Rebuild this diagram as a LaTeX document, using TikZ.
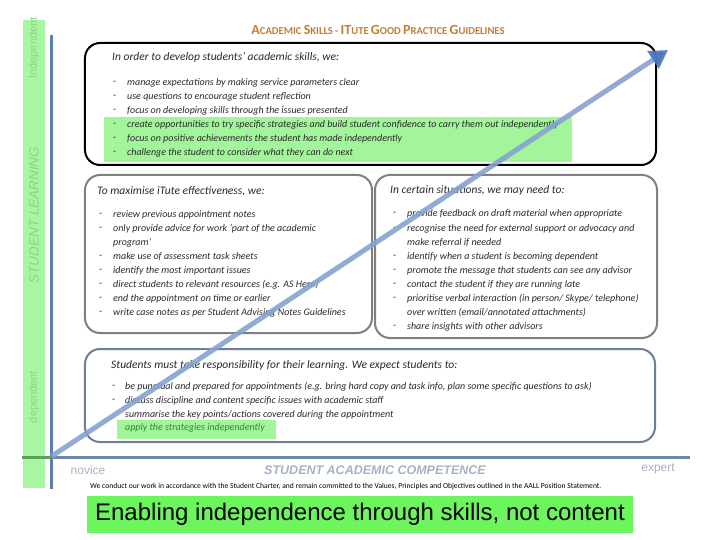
\documentclass[tikz,border=0pt]{standalone}
\usepackage{fontspec}
\setmainfont{Carlito}
\newfontfamily\arialf{Liberation Sans}
\usetikzlibrary{arrows.meta}
\definecolor{stripgreen}{HTML}{A8F5A2}
\definecolor{labgreen}{HTML}{86D886}
\definecolor{axisblue}{HTML}{5B7DB1}
\definecolor{axisgrey}{HTML}{6E86AA}
\definecolor{axisgreen}{HTML}{5E9E62}
\definecolor{boxgrey}{HTML}{808080}
\definecolor{boxblue}{HTML}{6E7F9A}
\definecolor{hlgreen}{HTML}{A2F59A}
\definecolor{enabgreen}{HTML}{6CF55C}
\definecolor{titlecol}{HTML}{C47E32}
\definecolor{txtc}{HTML}{2A2A2A}
\definecolor{greentxt}{HTML}{2E8A2E}
\definecolor{compcol}{HTML}{A6B2C6}
\definecolor{arrowblue}{HTML}{86A2D2}
\definecolor{headblue}{HTML}{4A76BE}
\newcommand\tsc[2]{{\fontsize{14bp}{14bp}\selectfont #1}{\fontsize{10.6bp}{14bp}\selectfont #2}}
\tikzset{
  panel/.style={draw, line width=2bp, rounded corners=15bp, fill=white, inner sep=0},
  txt/.style={anchor=west, inner sep=0, text=txtc, font=\fontsize{10bp}{11bp}\selectfont\itshape},
  head/.style={anchor=west, inner sep=0, text=txtc, font=\fontsize{11.5bp}{12bp}\selectfont\itshape},
  dashb/.style={anchor=west, inner sep=0, text=txtc, font=\fontsize{10bp}{11bp}\selectfont},
  sidelab/.style={rotate=90, inner sep=0, text=labgreen, font=\arialf\fontsize{11bp}{11bp}\selectfont},
  axlab/.style={inner sep=0, text=compcol, font=\arialf\fontsize{12bp}{12bp}\selectfont}
}
\begin{document}
\begin{tikzpicture}[x=1bp,y=-1bp]
\useasboundingbox (0,0) rectangle (720,540);
\fill[white] (0,0) rectangle (720,540);

% side strip
\fill[stripgreen] (23,20) rectangle (45,488);
\node[sidelab] (lind) at (34,48) {Independent};
\node[sidelab, font=\arialf\itshape\fontsize{13.5bp}{13.5bp}\selectfont] (lsl) at (34,215) {STUDENT LEARNING};
\node[sidelab] (ldep) at (34,397) {dependent};

% axes
\coordinate (ytop) at (51,35);
\coordinate (ybot) at (51,489);
\coordinate (xl) at (22,457);
\coordinate (xo) at (51,457);
\coordinate (xr) at (690,457);
\draw[axisblue, line width=3bp] (ytop) -- (ybot);
\draw[axisgrey, line width=3bp] (xo) -- (xr);
\draw[axisgreen, line width=3bp] (xl) -- (xo);

% title
\node[text=titlecol, inner sep=0, font=\bfseries] (title) at (378,30)
  {\tsc{A}{CADEMIC} \tsc{S}{KILLS} \tsc{}{-} \tsc{IT}{UTE} \tsc{G}{OOD} \tsc{P}{RACTICE} \tsc{G}{UIDELINES}};

% panels
\node[panel, minimum width=571bp, minimum height=122bp] (topbox) at (370.5,104) {};
\node[panel, draw=boxgrey, minimum width=287bp, minimum height=158bp] (leftbox) at (228.5,254) {};
\node[panel, draw=boxgrey, minimum width=282bp, minimum height=163bp] (rightbox) at (516,256.5) {};
\node[panel, draw=boxblue, minimum width=570bp, minimum height=93bp] (botbox) at (370,395.5) {};

% highlights
\fill[hlgreen] (104,117) rectangle (572,162);
\fill[hlgreen] (117,420) rectangle (276,439);

% top box text
\node[head] (th) at (112,57) {In order to develop students' academic skills, we:};
\foreach \y/\t [count=\i] in {83/{manage expectations by making service parameters clear},
  97/{use questions to encourage student reflection},
  111/{focus on developing skills through the issues presented},
  125/{create opportunities to try specific strategies and build student confidence to carry them out independently},
  139/{focus on positive achievements the student has made independently},
  153/{challenge the student to consider what they can do next}}{
  \node[dashb] (td\i) at (113,\y) {-};
  \node[txt] (tt\i) at (127,\y) {\t};
}

% left box text
\node[head] (lh) at (97,191) {To maximise iTute effectiveness, we:};
\foreach \y/\t [count=\i] in {215/{review previous appointment notes},
  229/{only provide advice for work `part of the academic},
  257/{make use of assessment task sheets},
  271/{identify the most important issues},
  285/{direct students to relevant resources (e.g. AS Hero)},
  299/{end the appointment on time or earlier},
  313/{write case notes as per Student Advising Notes Guidelines}}{
  \node[dashb] (ld\i) at (99,\y) {-};
  \node[txt] (lt\i) at (113,\y) {\t};
}
\node[txt] (ltx) at (113,243) {program'};

% right box text
\node[head] (rh) at (390,190) {In certain situations, we may need to:};
\foreach \y/\t [count=\i] in {214/{provide feedback on draft material when appropriate},
  229/{recognise the need for external support or advocacy and},
  257/{identify when a student is becoming dependent},
  271/{promote the message that students can see any advisor},
  285/{contact the student if they are running late},
  299/{prioritise verbal interaction (in person/ Skype/ telephone)},
  327/{share insights with other advisors}}{
  \node[dashb] (rd\i) at (393,\y) {-};
  \node[txt] (rt\i) at (407,\y) {\t};
}
\node[txt] (rtx1) at (407,243) {make referral if needed};
\node[txt] (rtx2) at (407,313) {over written (email/annotated attachments)};

% bottom box text
\node[head] (bh) at (111,365) {Students must take responsibility for their learning. We expect students to:};
\foreach \y/\t [count=\i] in {387/{be punctual and prepared for appointments (e.g. bring hard copy and task info, plan some specific questions to ask)},
  401/{discuss discipline and content specific issues with academic staff}}{
  \node[dashb] (bd\i) at (112,\y) {-};
  \node[txt] (bt\i) at (125,\y) {\t};
}
\node[txt] (bt3) at (125,415) {summarise the key points/actions covered during the appointment};
\node[txt, text=greentxt] (bt4) at (125,428) {apply the strategies independently};

% axis labels
\node[axlab] (novice) at (88,470) {novice};
\node[axlab, font=\arialf\bfseries\itshape\fontsize{12.5bp}{12.5bp}\selectfont] (comp) at (375,470) {STUDENT ACADEMIC COMPETENCE};
\node[axlab] (expert) at (658,469) {expert};

% footer
\node[anchor=west, inner sep=0, font=\fontsize{7.6bp}{8bp}\selectfont] (foot) at (90,487)
  {We conduct our work in accordance with the Student Charter, and remain committed to the Values, Principles and Objectives outlined in the AALL Position Statement.};

\node[fill=enabgreen, inner sep=0, minimum width=546bp, minimum height=37bp,
  font=\arialf\fontsize{24bp}{28bp}\selectfont] (enab) at (360,514.5)
  {Enabling independence through skills, not content};

% diagonal arrow
\coordinate (aS) at (52,456);
\coordinate (aE) at (668,50);
\draw[arrowblue, line width=5bp, opacity=0.9,
  -{Triangle[length=18bp,width=20bp,color=headblue]}] (aS) -- (aE);
\end{tikzpicture}
\end{document}
